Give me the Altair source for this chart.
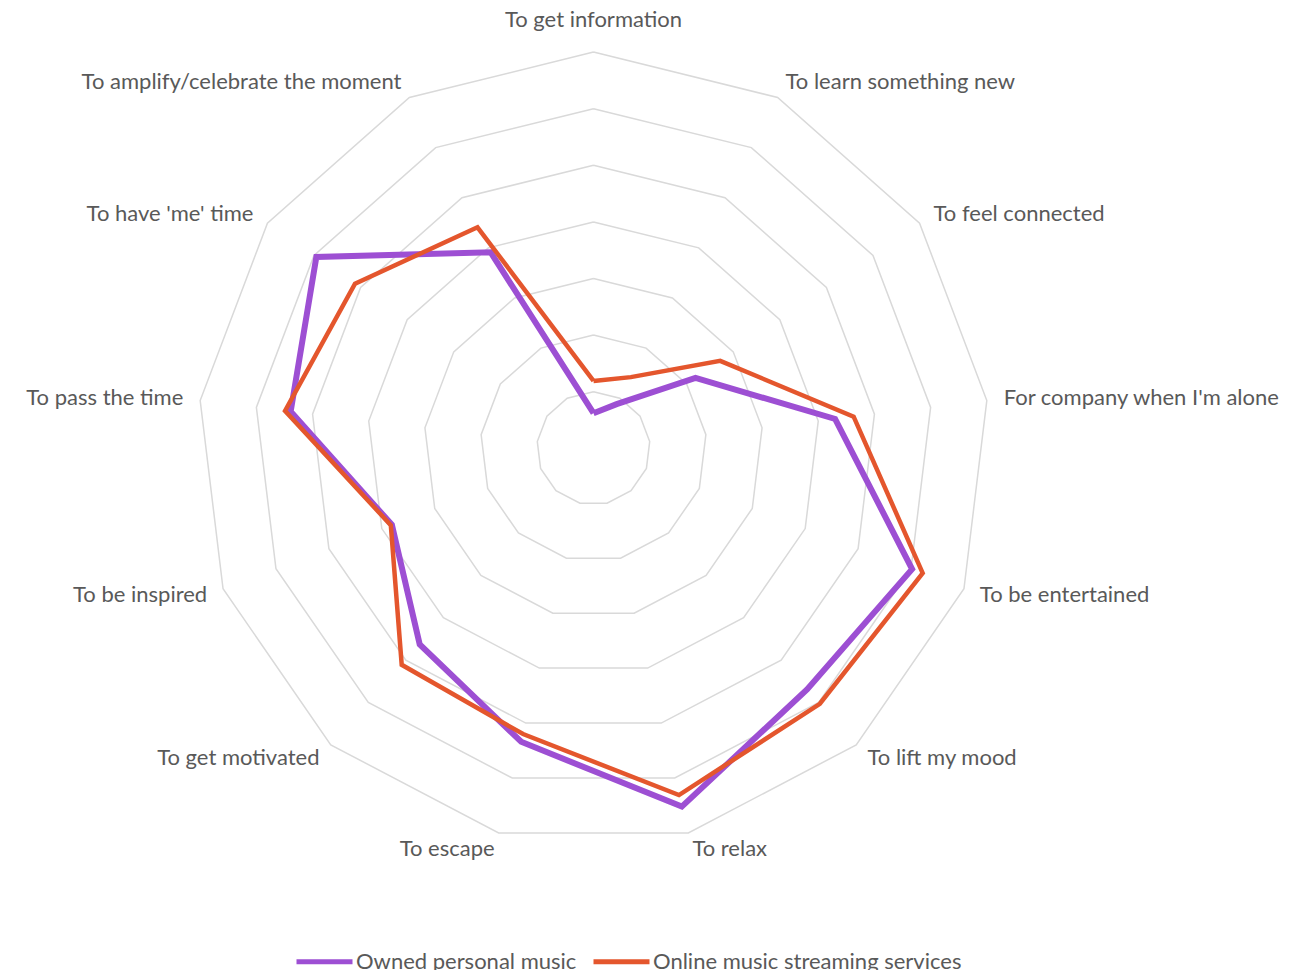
import math

import altair as alt
import pandas as pd

# Reasons for listening, clockwise from the top
categories = [
    "To get information",
    "To learn something new",
    "To feel connected",
    "For company when I'm alone",
    "To be entertained",
    "To lift my mood",
    "To relax",
    "To escape",
    "To get motivated",
    "To be inspired",
    "To pass the time",
    "To have 'me' time",
    "To amplify/celebrate the moment",
]
series_names = ["Owned personal music", "Online music streaming services"]
owned_personal = [6.2, 8.8, 21.9, 43.0, 60.2, 56.9, 65.2, 53.4, 46.3, 38.1, 53.9, 59.5, 39.1]
online_streaming = [11.9, 14.2, 27.2, 46.3, 62.2, 60.3, 63.1, 52.0, 51.1, 38.3, 54.9, 51.2, 44.1]
ring_levels = [10, 20, 30, 40, 50, 60, 70]
label_level = 73

# Layout: page size, radar centre and pixels per value unit
W, H = 1289, 970
CX, CY = 593.5, 448.3
PX_PER_UNIT = 5.66
X_DOMAIN = [-CX / PX_PER_UNIT, (W - CX) / PX_PER_UNIT]
Y_DOMAIN = [-(H - CY) / PX_PER_UNIT, CY / PX_PER_UNIT]

N = len(categories)
PURPLE = "#9D4FD3"
ORANGE = "#E4562D"
TEXT = "#595959"
FONT = "Lato"
FONT_SIZE = 22

series_rows = []
for name, values in zip(series_names, [owned_personal, online_streaming]):
    for k in range(N + 1):  # repeat the first spoke to close the loop
        series_rows.append({"series": name, "k": k, "value": values[k % N]})
series_df = pd.DataFrame(series_rows)

grid_df = pd.DataFrame(
    [{"ring": r, "k": k, "value": r} for r in ring_levels for k in range(N + 1)]
)
label_df = pd.DataFrame(
    {"category": categories, "k": list(range(N)), "value": [label_level] * N}
)

polar = dict(
    px=f"datum.value * sin(datum.k * 2 * PI / {N})",
    py=f"datum.value * cos(datum.k * 2 * PI / {N})",
)

x_enc = alt.X("px:Q", scale=alt.Scale(domain=X_DOMAIN, nice=False, zero=False), axis=None)
y_enc = alt.Y("py:Q", scale=alt.Scale(domain=Y_DOMAIN, nice=False, zero=False), axis=None)

color_scale = alt.Scale(domain=series_names, range=[PURPLE, ORANGE])
legend = alt.Legend(
    title=None,
    orient="none",
    legendX=294,
    legendY=931,
    direction="horizontal",
    symbolType="stroke",
    symbolSize=3136,
    symbolStrokeWidth=5,
    labelFont=FONT,
    labelFontSize=FONT_SIZE,
    labelColor=TEXT,
    labelOffset=1,
    labelLimit=0,
    columnPadding=6,
)

grid = (
    alt.Chart(grid_df)
    .transform_calculate(**polar)
    .mark_line(color="#D9D9D9", strokeWidth=1.5)
    .encode(x=x_enc, y=y_enc, detail="ring:N", order="k:Q")
)


def series_line(name, width):
    return (
        alt.Chart(series_df)
        .transform_filter(alt.datum.series == name)
        .transform_calculate(**polar)
        .mark_line(strokeWidth=width, strokeJoin="miter")
        .encode(
            x=x_enc,
            y=y_enc,
            order="k:Q",
            color=alt.Color("series:N", scale=color_scale, legend=legend),
        )
    )


owned_line = series_line(series_names[0], 6)
stream_line = series_line(series_names[1], 4.5)

label_base = alt.Chart(label_df).transform_calculate(**polar)
text_style = dict(font=FONT, fontSize=FONT_SIZE, color=TEXT, baseline="middle")

labels_top = label_base.transform_filter("datum.k == 0").mark_text(
    align="center", dy=-15, **text_style
).encode(x=x_enc, y=y_enc, text="category:N")
labels_right = label_base.transform_filter(
    f"datum.k > 0 && datum.k <= {N // 2}"
).mark_text(align="left", **text_style).encode(x=x_enc, y=y_enc, text="category:N")
labels_left = label_base.transform_filter(f"datum.k > {N // 2}").mark_text(
    align="right", **text_style
).encode(x=x_enc, y=y_enc, text="category:N")

chart = (
    alt.layer(grid, owned_line, stream_line, labels_top, labels_right, labels_left)
    .properties(width=W, height=H, padding=0, autosize="none", background="white")
    .configure_view(stroke=None)
)

chart.save("out.html", embed_options={"renderer": "svg", "actions": False})
